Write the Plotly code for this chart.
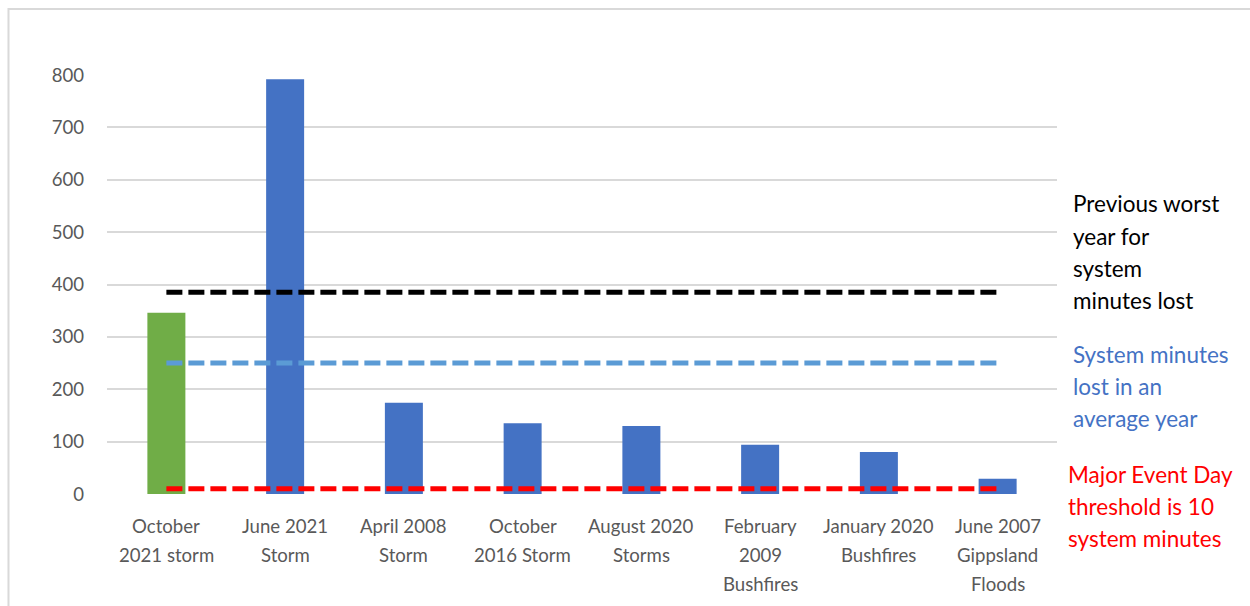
import plotly.graph_objects as go

# Event names (each inner list is one wrapped label, line by line)
event_lines = [
    ["October", "2021 storm"],
    ["June 2021", "Storm"],
    ["April 2008", "Storm"],
    ["October", "2016 Storm"],
    ["August 2020", "Storms"],
    ["February", "2009", "Bushfires"],
    ["January 2020", "Bushfires"],
    ["June 2007", "Gippsland", "Floods"],
]
events = [" ".join(l) for l in event_lines]

# System minutes lost per event
minutes_lost = [346, 792, 174, 135, 130, 94, 80, 29]
bar_colors = ["#70ad47"] + ["#4472c4"] * 7

# Reference levels
previous_worst_year = 385
average_year = 250
med_threshold = 10

y_ticks = [0, 100, 200, 300, 400, 500, 600, 700, 800]

FONT = "Lato, Carlito, Calibri, sans-serif"
GREY = "#595959"

fig = go.Figure()

fig.add_trace(go.Bar(
    x=events, y=minutes_lost,
    marker=dict(color=bar_colors, line=dict(width=0)),
    showlegend=False, hoverinfo="x+y",
))

for level, color in [(previous_worst_year, "#000000"),
                     (average_year, "#5b9bd5"),
                     (med_threshold, "#ff0000")]:
    fig.add_trace(go.Scatter(
        x=events, y=[level] * len(events), mode="lines",
        line=dict(color=color, width=5, dash="16px,6px"),
        showlegend=False, hoverinfo="y",
    ))

# Wrapped category labels below the axis
annotations = []
LINE_H = 29
for name, lines in zip(events, event_lines):
    for i, txt in enumerate(lines):
        annotations.append(dict(
            x=name, xref="x", y=0, yref="paper",
            yanchor="middle", yshift=-32 - i * LINE_H,
            text=txt, showarrow=False,
            font=dict(family=FONT, size=18.6, color=GREY),
        ))

# Notes to the right of the reference lines
notes = [
    (["Previous worst", "year for", "system", "minutes lost"], "#000000", 14, 204),
    (["System minutes", "lost in an", "average year"], "#4472c4", 14, 354),
    (["Major Event Day", "threshold is 10", "system minutes"], "#ff0000", 9, 474),
]
for lines, color, shift, top_px in notes:
    for i, txt in enumerate(lines):
        annotations.append(dict(
            x=1.0, xref="paper", xanchor="left", xshift=shift,
            y=(494 - (top_px + i * 32.3)) / 419, yref="paper", yanchor="middle",
            text=txt, showarrow=False,
            font=dict(family=FONT, size=22.5, color=color),
        ))

fig.update_layout(
    width=1250, height=606,
    margin=dict(l=107, r=193, t=75, b=112),
    paper_bgcolor="white", plot_bgcolor="white",
    bargap=0.68,
    font=dict(family=FONT, size=18, color=GREY),
    annotations=annotations,
    shapes=[dict(
        type="rect", xref="paper", yref="paper",
        x0=-0.1037, x1=1.35, y0=-0.5, y1=1.1575,
        line=dict(color="#d9d9d9", width=2), layer="below",
    )],
)

fig.update_xaxes(showticklabels=False, showgrid=False, zeroline=False,
                 showline=False, ticks="")
fig.update_yaxes(range=[0, 800], tickvals=y_ticks, showgrid=True,
                 gridcolor="#d9d9d9", gridwidth=2, zeroline=False,
                 showline=False, ticks="", ticklabelstandoff=22,
                 tickfont=dict(family=FONT, size=18.6, color=GREY))

fig.write_html("out.html")
